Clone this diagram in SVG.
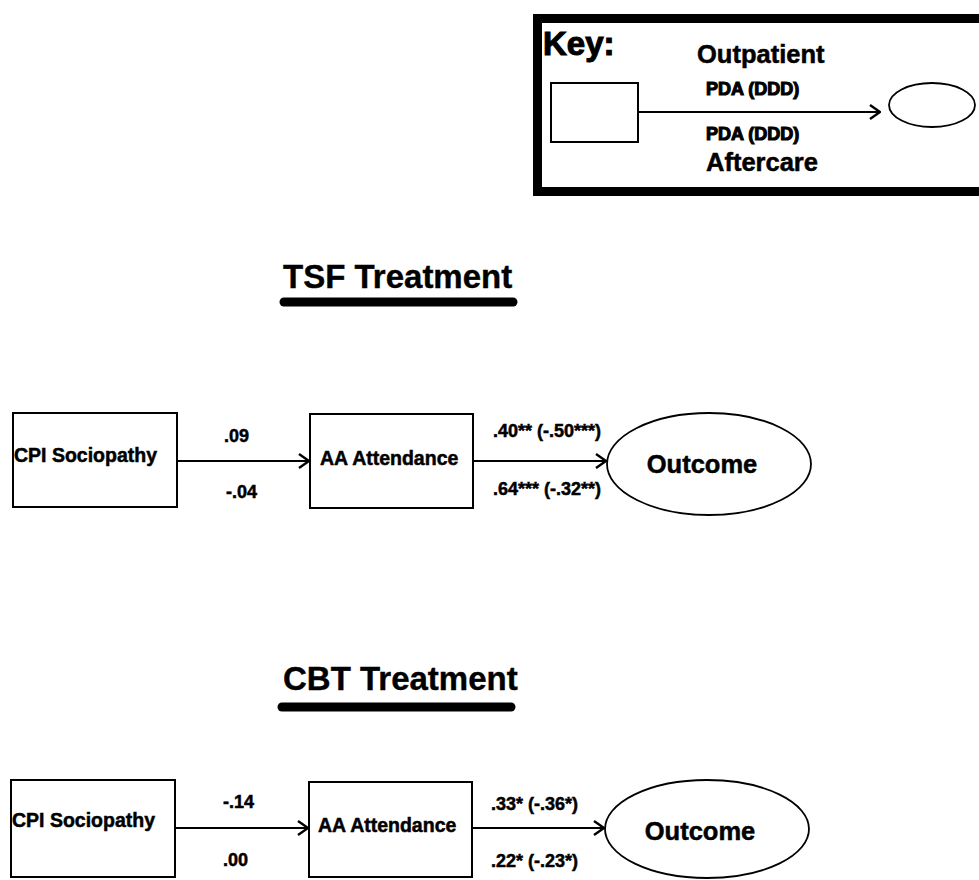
<svg xmlns="http://www.w3.org/2000/svg" width="979" height="880" viewBox="0 0 979 880">
  <defs>
    <style>
      text { font-family: "Liberation Sans", Arial, sans-serif; font-weight: bold; fill: #000; stroke: #000; stroke-width: 0.5; }
      .heavy { stroke-width: 1.1; }
      .box { fill: #fff; stroke: #000; stroke-width: 2; }
      .oval { fill: #fff; stroke: #000; stroke-width: 1.8; }
      .link { fill: none; stroke: #000; stroke-width: 2; }
      .lbl { font-size: 18px; }
      .node { font-size: 19.5px; }
      .out { font-size: 25.5px; }
      .title { font-size: 33px; stroke-width: 0.4; }
      .bar { stroke: #000; stroke-width: 9; stroke-linecap: round; }
    </style>
    <marker id="chev" viewBox="0 0 12 16" refX="11" refY="8" markerWidth="12" markerHeight="16" markerUnits="userSpaceOnUse" orient="auto">
      <path d="M1,1 L11,8 L1,15" fill="none" stroke="#000" stroke-width="2.4"/>
    </marker>
  </defs>
  <rect width="979" height="880" fill="#fff"/>

  <!-- Legend panel -->
  <g id="key">
    <rect x="537.5" y="18.5" width="460" height="173" fill="#fff" stroke="#000" stroke-width="9"/>
    <text x="543" y="55" font-size="33" class="heavy">Key:</text>
    <text x="697" y="63" font-size="25.5">Outpatient</text>
    <text x="706" y="95" font-size="18" class="heavy">PDA (DDD)</text>
    <text x="706" y="140" font-size="18" class="heavy">PDA (DDD)</text>
    <text x="706" y="171" font-size="25.5">Aftercare</text>
    <rect x="551" y="83" width="87" height="59" class="box" stroke-width="1.6"/>
    <ellipse cx="932" cy="105" rx="43" ry="22" class="oval"/>
    <line x1="638" y1="112" x2="880" y2="112" class="link" marker-end="url(#chev)"/>
  </g>

  <!-- TSF model -->
  <g id="tsf-title">
    <text x="283" y="288" class="title">TSF Treatment</text>
    <line x1="284" y1="302" x2="513" y2="302" class="bar"/>
  </g>
  <g id="tsf-cpi">
    <rect x="13" y="413" width="164" height="94" class="box"/>
    <text x="14" y="462" class="node">CPI Sociopathy</text>
  </g>
  <g id="tsf-aa">
    <rect x="310" y="414" width="163" height="94" class="box"/>
    <text x="320" y="465" class="node">AA Attendance</text>
  </g>
  <g id="tsf-outcome">
    <ellipse cx="709" cy="464" rx="102" ry="51" class="oval"/>
    <text x="702" y="473" class="out" text-anchor="middle">Outcome</text>
  </g>

  <!-- CBT model -->
  <g id="cbt-title">
    <text x="283" y="690" class="title">CBT Treatment</text>
    <line x1="282" y1="707" x2="511" y2="707" class="bar"/>
  </g>
  <g id="cbt-cpi">
    <rect x="11" y="780" width="164" height="97" class="box"/>
    <text x="12" y="827" class="node">CPI Sociopathy</text>
  </g>
  <g id="cbt-aa">
    <rect x="309" y="782" width="163" height="95" class="box"/>
    <text x="318" y="832" class="node">AA Attendance</text>
  </g>
  <g id="cbt-outcome">
    <ellipse cx="707" cy="829" rx="102" ry="49" class="oval"/>
    <text x="700" y="840" class="out" text-anchor="middle">Outcome</text>
  </g>

  <!-- Paths and coefficients -->
  <g id="connectors">
    <line x1="177" y1="461" x2="309" y2="461" class="link" marker-end="url(#chev)"/>
    <line x1="473" y1="461" x2="606" y2="461" class="link" marker-end="url(#chev)"/>
    <line x1="175" y1="828" x2="308" y2="828" class="link" marker-end="url(#chev)"/>
    <line x1="472" y1="828" x2="604" y2="828" class="link" marker-end="url(#chev)"/>

    <text x="224" y="442" class="lbl">.09</text>
    <text x="226" y="498" class="lbl">-.04</text>
    <text x="493" y="437" class="lbl">.40** (-.50***)</text>
    <text x="493" y="495" class="lbl">.64*** (-.32**)</text>

    <text x="223" y="808" class="lbl">-.14</text>
    <text x="223" y="866" class="lbl">.00</text>
    <text x="491" y="810" class="lbl">.33* (-.36*)</text>
    <text x="491" y="867" class="lbl">.22* (-.23*)</text>
  </g>
</svg>
